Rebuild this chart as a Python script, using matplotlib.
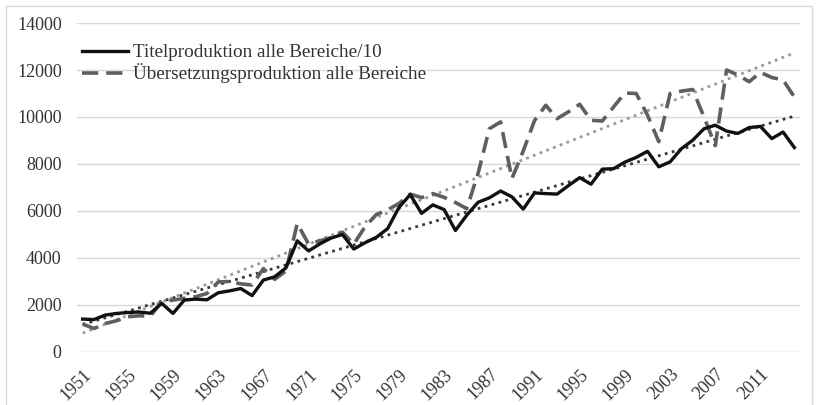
import numpy as np
import matplotlib
matplotlib.use("Agg")
import matplotlib.pyplot as plt
from matplotlib.patches import Rectangle

years = list(range(1951, 2015))

# Titelproduktion alle Bereiche / 10
titel = [1400, 1380, 1570, 1640, 1680, 1700, 1650, 2070, 1640, 2210,
         2250, 2220, 2520, 2600, 2700, 2400, 3060, 3200, 3580, 4730,
         4300, 4600, 4850, 5000, 4380, 4650, 4880, 5250, 6150, 6700,
         5900, 6260, 6060, 5170, 5820, 6370, 6560, 6850, 6600, 6080,
         6770, 6740, 6720, 7080, 7420, 7140, 7780, 7800, 8080, 8280,
         8540, 7880, 8090, 8650, 9010, 9500, 9650, 9400, 9300, 9550,
         9600, 9080, 9360, 8700]

# Übersetzungsproduktion alle Bereiche
uebers = [1190, 1000, 1210, 1330, 1500, 1540, 1530, 2140, 2210, 2280,
          2350, 2490, 2980, 3000, 2900, 2850, 3550, 3090, 3450, 5470,
          4590, 4730, 4870, 5100, 4590, 5330, 5850, 6050, 6320, 6720,
          6570, 6740, 6580, 6360, 6100, 7590, 9500, 9790, 7380, 8550,
          9850, 10500, 9930, 10220, 10540, 9860, 9830, 10430, 11020, 11000,
          10080, 8950, 11000, 11100, 11170, 10000, 8780, 12000, 11790, 11500,
          11900, 11680, 11580, 10850]

tick_years = list(range(1951, 2012, 4))

plt.rcParams['font.family'] = ['Liberation Serif', 'DejaVu Serif']

fig = plt.figure(figsize=(8.18, 4.05), dpi=100)
ax = fig.add_axes([0.0941, 0.1309, 0.978 - 0.0941, 0.9432 - 0.1309])

x = np.arange(len(years))

# linear trend lines (like Excel trendline)
p_t = np.polyfit(x, titel, 1)
p_u = np.polyfit(x, uebers, 1)
ax.plot(x, np.polyval(p_u, x), color='#9a9a9a', lw=2.0, ls=(0, (1, 1.6)), zorder=2)
ax.plot(x, np.polyval(p_t, x), color='#3a3a3a', lw=2.0, ls=(0, (1, 1.6)), zorder=2)

ax.plot(x, uebers, color='#5f5f5f', lw=2.6, ls=(0, (4.5, 2.2)),
        label='Übersetzungsproduktion alle Bereiche', zorder=3)
ax.plot(x, titel, color='#111111', lw=2.4,
        label='Titelproduktion alle Bereiche/10', zorder=4)

ax.set_xlim(-0.5, len(years) - 0.5)
ax.set_ylim(0, 14000)
ax.set_yticks(range(0, 14001, 2000))
ax.yaxis.grid(True, color='#d9d9d9', lw=1.0)
ax.set_axisbelow(True)
for s in ax.spines.values():
    s.set_visible(False)
ax.tick_params(axis='both', length=0, labelsize=13, colors='#333333')
ax.tick_params(axis='y', pad=11)

ax.set_xticks([years.index(y) for y in tick_years])
ax.set_xticklabels([str(y) for y in tick_years], rotation=45, ha='right',
                   rotation_mode='anchor')
ax.tick_params(axis='x', pad=10)

handles, labels = ax.get_legend_handles_labels()
leg = ax.legend(handles[::-1], labels[::-1], loc='upper left',
                bbox_to_anchor=(-0.004, 0.96), frameon=False,
                fontsize=13.8, handlelength=2.4, handletextpad=0.26,
                labelspacing=0.12, borderaxespad=0)
for t in leg.get_texts():
    t.set_color('#333333')

fig.patches.append(Rectangle((0.007, -0.05), 0.986, 1.035, transform=fig.transFigure,
                             fill=False, edgecolor='#d9d9d9', lw=1.0))

fig.savefig('out.png', dpi=100)
